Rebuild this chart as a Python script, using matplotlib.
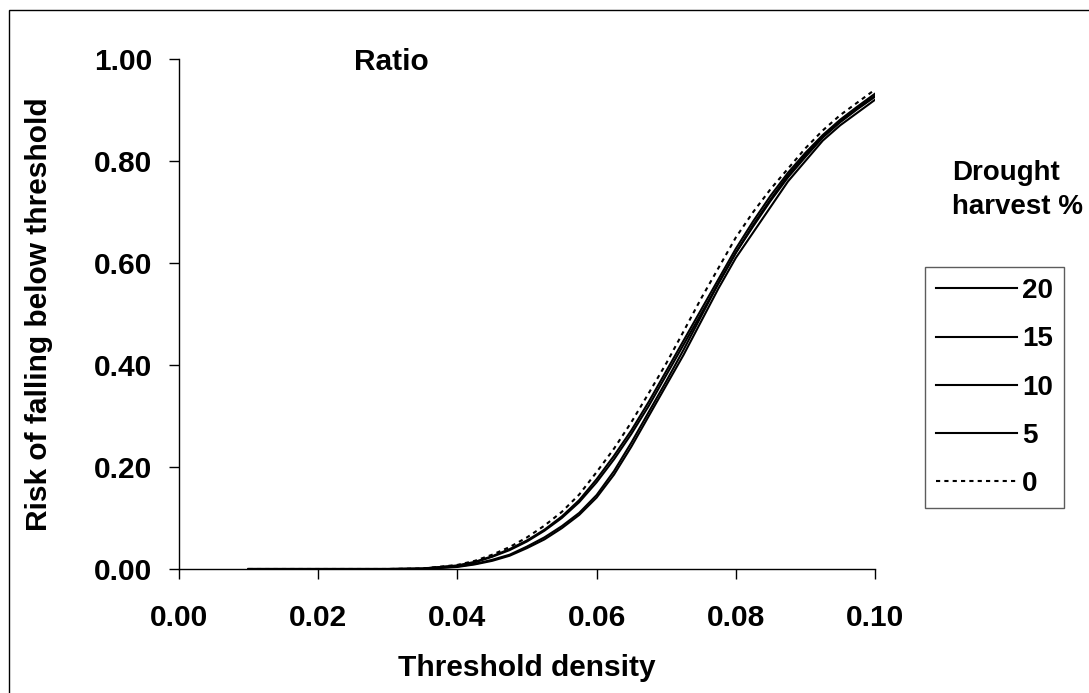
import numpy as np
import matplotlib.pyplot as plt
from matplotlib.lines import Line2D
from matplotlib.patches import Rectangle

plt.rcParams['font.family'] = ['Liberation Sans', 'DejaVu Sans']
plt.rcParams['font.weight'] = 'bold'

# ── Data ─────────────────────────────────────────────────────────────────────
density = [0.010, 0.020, 0.030, 0.035, 0.040, 0.0425, 0.045, 0.0475, 0.050,
           0.0525, 0.055, 0.0575, 0.060, 0.0625, 0.065, 0.0675, 0.070,
           0.0725, 0.075, 0.0775, 0.080, 0.0825, 0.085, 0.0875, 0.090,
           0.0925, 0.095, 0.0975, 0.100]

risk_20 = [0, 0, 0, 0.000, 0.004, 0.009, 0.016, 0.026, 0.041, 0.058, 0.080,
           0.106, 0.140, 0.185, 0.240, 0.300, 0.360, 0.420, 0.485, 0.550,
           0.610, 0.660, 0.710, 0.760, 0.800, 0.840, 0.870, 0.895, 0.920]
risk_15 = [0, 0, 0, 0.000, 0.005, 0.010, 0.018, 0.028, 0.044, 0.062, 0.084,
           0.110, 0.145, 0.192, 0.248, 0.308, 0.368, 0.430, 0.495, 0.560,
           0.620, 0.672, 0.722, 0.768, 0.808, 0.846, 0.876, 0.902, 0.926]
risk_10 = [0, 0, 0, 0.001, 0.006, 0.013, 0.024, 0.037, 0.054, 0.075, 0.100,
           0.131, 0.170, 0.215, 0.265, 0.320, 0.380, 0.440, 0.500, 0.560,
           0.620, 0.675, 0.725, 0.772, 0.812, 0.848, 0.878, 0.904, 0.928]
risk_5 = [0, 0, 0, 0.001, 0.007, 0.014, 0.025, 0.039, 0.056, 0.077, 0.103,
          0.135, 0.176, 0.222, 0.272, 0.328, 0.388, 0.448, 0.508, 0.568,
          0.628, 0.682, 0.732, 0.777, 0.816, 0.851, 0.881, 0.907, 0.932]
risk_0 = [0, 0, 0, 0.001, 0.008, 0.016, 0.028, 0.043, 0.062, 0.085, 0.112,
          0.146, 0.190, 0.236, 0.288, 0.345, 0.403, 0.466, 0.530, 0.590,
          0.650, 0.700, 0.745, 0.785, 0.825, 0.860, 0.890, 0.915, 0.940]

labels = ['20', '15', '10', '5', '0']
series = [risk_20, risk_15, risk_10, risk_5, risk_0]
styles = ['-', '-', '-', '-', (0, (2, 2))]

x_ticks = [0.00, 0.02, 0.04, 0.06, 0.08, 0.10]
y_ticks = [0.00, 0.20, 0.40, 0.60, 0.80, 1.00]

FS = 21.5     # axis text
FS_LEG = 20   # legend text

# ── Figure ───────────────────────────────────────────────────────────────────
W, H = 1089, 693
fig = plt.figure(figsize=(W / 100, H / 100), dpi=100)
ax = fig.add_axes([179 / W, 1 - 569 / H, (875 - 179) / W, (569 - 59) / H])

for ys, ls in zip(series, styles):
    ax.plot(density, ys, color='black', lw=1.5, ls=ls)

ax.set_xlim(0, 0.10)
ax.set_ylim(0, 1.0)
ax.set_xticks(x_ticks)
ax.set_yticks(y_ticks)
ax.set_xticklabels([f'{v:.2f}' for v in x_ticks])
ax.set_yticklabels([f'{v:.2f}' for v in y_ticks])
ax.tick_params(direction='out', length=7, width=1, labelsize=FS, pad=12)
ax.tick_params(axis='x', pad=18)
for s in ['top', 'right']:
    ax.spines[s].set_visible(False)
for s in ['left', 'bottom']:
    ax.spines[s].set_linewidth(1)

ax.set_xlabel('Threshold density', fontsize=FS, fontweight='bold', labelpad=16)
ax.set_ylabel('Risk of falling below threshold', fontsize=FS, fontweight='bold',
              labelpad=30)
ax.text(0.0251, 0.995, 'Ratio', fontsize=FS, fontweight='bold',
        ha='left', va='center')

# legend title and box
fig.text(952 / W, 1 - 190 / H, 'Drought\nharvest %', fontsize=FS_LEG,
         fontweight='bold', ha='left', va='center', linespacing=1.45)
handles = [Line2D([], [], color='black', lw=1.5, ls=ls) for ls in styles]
leg = fig.legend(handles, labels, loc='upper left',
                 bbox_to_anchor=(925 / W, 1 - 267 / H),
                 frameon=True, fancybox=False, fontsize=FS_LEG,
                 handlelength=2.9, handletextpad=0.2, labelspacing=0.8,
                 borderpad=0.4, borderaxespad=0)
leg.get_frame().set_edgecolor('#333333')
leg.get_frame().set_linewidth(1)
for t in leg.get_texts():
    t.set_fontweight('bold')

# outer chart border
fig.patches.append(Rectangle((9 / W, -0.01), 1.1, 1 - 10 / H + 0.01,
                             transform=fig.transFigure, fill=False,
                             edgecolor='black', lw=1))

fig.savefig('out.png', dpi=100)
